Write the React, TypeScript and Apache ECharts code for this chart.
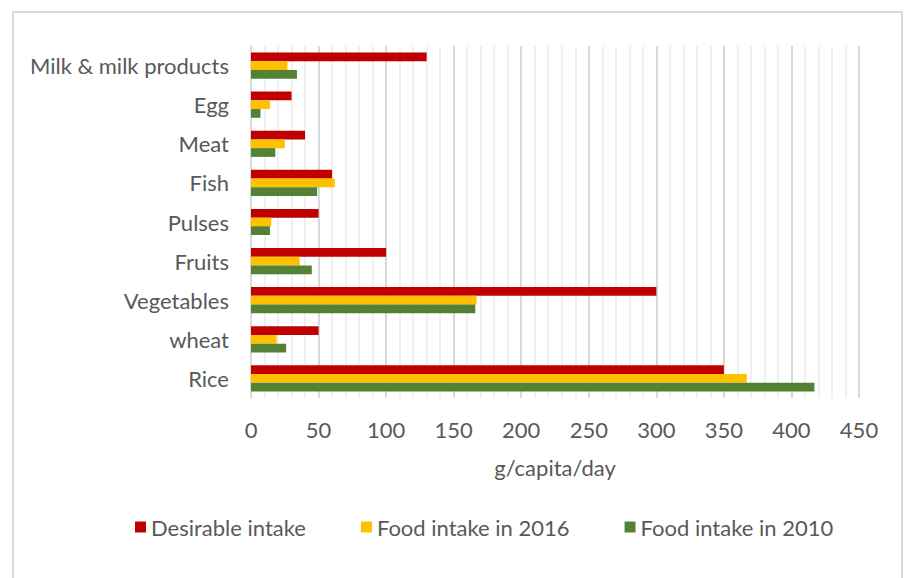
import React, { useEffect, useRef } from "react";
import * as echarts from "echarts";

const categories = ["Rice", "wheat", "Vegetables", "Fruits", "Pulses", "Fish", "Meat", "Egg", "Milk & milk products"];
const desirable = [350, 50, 300, 100, 50, 60, 40, 30, 130];
const intake2016 = [367, 19, 167, 36, 15, 62, 25, 14, 27];
const intake2010 = [417, 26, 166, 45, 14, 49, 18, 7, 34];
const seriesNames = ["Desirable intake", "Food intake in 2016", "Food intake in 2010"];
const colors = ["#C00000", "#FFC000", "#548235"];

const FONT = "Lato";
const TXT = "#595959";

export default function App() {
  const ref = useRef<HTMLDivElement>(null);
  useEffect(() => {
    if (!ref.current) return;
    const chart = echarts.init(ref.current, null, { renderer: "svg" });
    const values = [desirable, intake2016, intake2010];
    chart.setOption({
      animation: false,
      backgroundColor: "#ffffff",
      textStyle: { fontFamily: FONT, color: TXT },
      graphic: [
        {
          type: "rect",
          shape: { x: 13, y: 12, width: 889, height: 620 },
          style: { fill: "none", stroke: "#d9d9d9", lineWidth: 2 },
          silent: true,
        },
      ],
      grid: { left: 251, top: 46, width: 608, height: 352 },
      legend: {
        data: seriesNames,
        left: 130,
        top: 511,
        itemWidth: 11,
        itemHeight: 11,
        itemGap: 55,
        icon: "rect",
        textStyle: { fontFamily: FONT, fontSize: 22, color: TXT },
      },
      xAxis: {
        type: "value",
        min: 0,
        max: 450,
        interval: 50,
        name: "g/capita/day",
        nameLocation: "middle",
        nameGap: 58,
        nameTextStyle: { fontFamily: FONT, fontSize: 22, color: TXT },
        axisLine: { show: false },
        axisTick: { show: false },
        axisLabel: { fontFamily: FONT, fontSize: 22, color: TXT, margin: 20 },
        splitLine: { show: true, lineStyle: { color: "#d9d9d9", width: 2 } },
        minorTick: { show: false, splitNumber: 5 },
        minorSplitLine: { show: true, lineStyle: { color: "#f0f0f0", width: 2 } },
      },
      yAxis: {
        type: "category",
        data: categories,
        axisLine: { show: true, lineStyle: { color: "#d9d9d9", width: 2 } },
        axisTick: { show: false },
        axisLabel: { fontFamily: FONT, fontSize: 22, color: TXT, margin: 22 },
        splitLine: { show: false },
      },
      series: [0, 1, 2].map((i) => ({
        name: seriesNames[i],
        type: "bar",
        data: values[i],
        itemStyle: { color: colors[i] },
        barGap: "0%",
        barCategoryGap: "33%",
      })),
    });
    return () => chart.dispose();
  }, []);
  return <div ref={ref} style={{ position: "absolute", left: 0, top: 0, width: 906, height: 578 }} />;
}
